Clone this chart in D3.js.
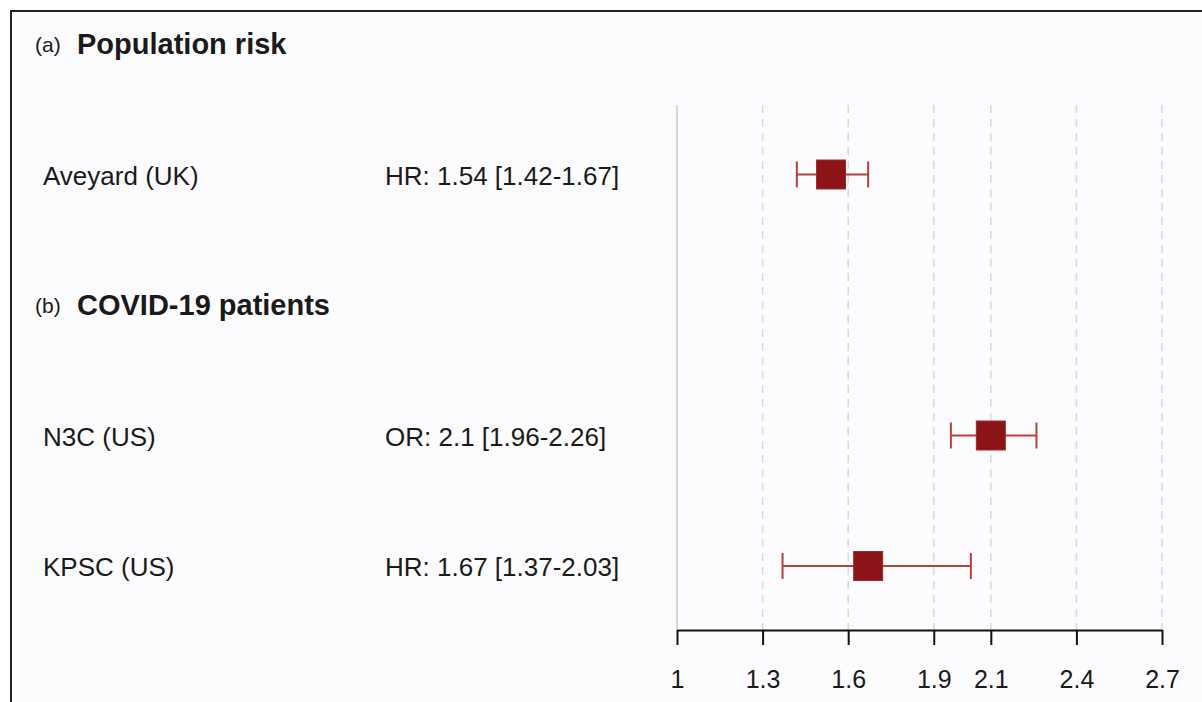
<!DOCTYPE html>
<html>
<head>
<meta charset="utf-8">
<script src="https://cdn.jsdelivr.net/npm/d3@7"></script>
<style>
  body { margin: 0; background: #fff; }
  svg text { font-family: "Liberation Sans", Arial, sans-serif; fill: #1a1a1a; }
</style>
</head>
<body>
<script>
// rows of the forest plot, top to bottom
var rows = ["a", "Aveyard", "b", "N3C", "KPSC"];

// section headers
var headers = [
  {row: "a", tag: "(a)", title: "Population risk"},
  {row: "b", tag: "(b)", title: "COVID-19 patients"}
];

// studies and estimates
var studies = ["Aveyard", "N3C", "KPSC"];
var studyLabels = ["Aveyard (UK)", "N3C (US)", "KPSC (US)"];
var measure = ["HR", "OR", "HR"];
var estimate = [1.54, 2.1, 1.67];
var lower = [1.42, 1.96, 1.37];
var upper = [1.67, 2.26, 2.03];

// axis ticks
var ticks = [1, 1.3, 1.6, 1.9, 2.1, 2.4, 2.7];

var width = 1202, height = 702;

var svg = d3.select("body").append("svg")
  .attr("width", width)
  .attr("height", height);

// background + frame
svg.append("rect")
  .attr("x", 0).attr("y", 0).attr("width", width).attr("height", height)
  .attr("fill", "#ffffff");
svg.append("rect")
  .attr("x", 11).attr("y", 11).attr("width", width + 20).attr("height", height + 20)
  .attr("fill", "#fcfcfe")
  .attr("stroke", "#222")
  .attr("stroke-width", 2);

var x = d3.scaleLinear().domain([1, 2.7]).range([677, 1162]);
var y = d3.scalePoint().domain(rows).range([44, 566]);

var axisY = 630;

// grid lines
svg.append("g").selectAll("line")
  .data(ticks)
  .enter().append("line")
  .attr("x1", function(d){ return x(d); })
  .attr("x2", function(d){ return x(d); })
  .attr("y1", 105)
  .attr("y2", axisY)
  .attr("stroke", function(d){ return d === 1 ? "#c4ccd2" : "#cfdce6"; })
  .attr("stroke-width", 1.5)
  .attr("stroke-dasharray", function(d){ return d === 1 ? null : "8,6"; });

// headers
var hdr = svg.append("g").selectAll("g")
  .data(headers)
  .enter().append("g");
hdr.append("text")
  .attr("x", 35)
  .attr("y", function(d){ return y(d.row) + 8; })
  .style("font-size", "21px")
  .text(function(d){ return d.tag; });
hdr.append("text")
  .attr("x", 77)
  .attr("y", function(d){ return y(d.row) + 10; })
  .style("font-size", "29px")
  .style("font-weight", "bold")
  .text(function(d){ return d.title; });

// study labels
var lab = svg.append("g").selectAll("g")
  .data(studies)
  .enter().append("g");
lab.append("text")
  .attr("x", 43)
  .attr("y", function(d){ return y(d) + 10; })
  .style("font-size", "26px")
  .text(function(d, i){ return studyLabels[i]; });
lab.append("text")
  .attr("x", 385)
  .attr("y", function(d){ return y(d) + 10; })
  .style("font-size", "26px")
  .text(function(d, i){ return measure[i] + ": " + estimate[i] + " [" + lower[i] + "-" + upper[i] + "]"; });

// confidence intervals
var ci = svg.append("g")
  .attr("stroke", "#b8403a")
  .attr("stroke-width", 2)
  .selectAll("g")
  .data(studies)
  .enter().append("g");
ci.append("line")
  .attr("x1", function(d, i){ return x(lower[i]); })
  .attr("x2", function(d, i){ return x(upper[i]); })
  .attr("y1", function(d){ return y(d); })
  .attr("y2", function(d){ return y(d); });
ci.append("line")
  .attr("x1", function(d, i){ return x(lower[i]); })
  .attr("x2", function(d, i){ return x(lower[i]); })
  .attr("y1", function(d){ return y(d) - 13; })
  .attr("y2", function(d){ return y(d) + 13; });
ci.append("line")
  .attr("x1", function(d, i){ return x(upper[i]); })
  .attr("x2", function(d, i){ return x(upper[i]); })
  .attr("y1", function(d){ return y(d) - 13; })
  .attr("y2", function(d){ return y(d) + 13; });

// point estimate boxes
var box = 29;
svg.append("g").selectAll("rect")
  .data(studies)
  .enter().append("rect")
  .attr("x", function(d, i){ return x(estimate[i]) - box / 2; })
  .attr("y", function(d){ return y(d) - box / 2; })
  .attr("width", box)
  .attr("height", box)
  .attr("fill", "#8b1418")
  .attr("stroke", "#a52a26")
  .attr("stroke-width", 1);

// x axis
var axis = svg.append("g")
  .attr("transform", "translate(0," + axisY + ")")
  .call(d3.axisBottom(x).tickValues(ticks).tickSize(15).tickPadding(25).tickSizeOuter(0)
    .tickFormat(function(d){ return String(d); }));
axis.select(".domain").attr("stroke", "#111").attr("stroke-width", 2);
axis.selectAll(".tick line").attr("stroke", "#111").attr("stroke-width", 2);
axis.selectAll(".tick text")
  .style("font-size", "25px")
  .style("font-family", "'Liberation Sans', Arial, sans-serif")
  .attr("fill", "#1a1a1a");
</script>
</body>
</html>
